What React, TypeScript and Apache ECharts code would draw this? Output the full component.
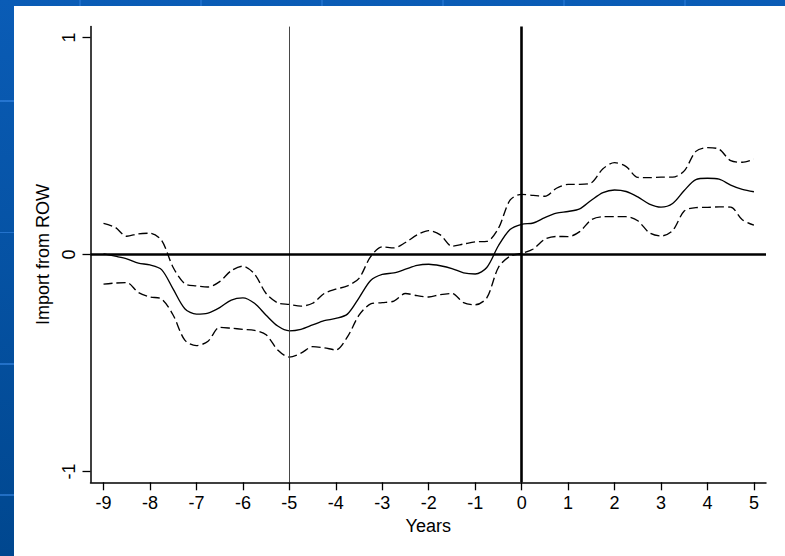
import React, { useEffect, useRef } from "react";
import * as echarts from "echarts";

const years = [
  -9, -8.75, -8.5, -8.25, -8, -7.75, -7.5, -7.25, -7, -6.75, -6.5, -6.25, -6, -5.75, -5.5, -5.25,
  -5, -4.75, -4.5, -4.25, -4, -3.75, -3.5, -3.25, -3, -2.75, -2.5, -2.25, -2, -1.75, -1.5, -1.25,
  -1, -0.75, -0.5, -0.25, 0, 0.25, 0.5, 0.75, 1, 1.25, 1.5, 1.75, 2, 2.25, 2.5, 2.75,
  3, 3.25, 3.5, 3.75, 4, 4.25, 4.5, 4.75, 5,
];

const estimate = [
  0.003, -0.008, -0.02, -0.04, -0.048, -0.07, -0.16, -0.25, -0.275, -0.27, -0.245, -0.21, -0.2, -0.225, -0.28, -0.33,
  -0.352, -0.345, -0.325, -0.305, -0.295, -0.275, -0.2, -0.12, -0.092, -0.085, -0.068, -0.05, -0.045, -0.052, -0.065, -0.085,
  -0.09, -0.06, 0.04, 0.115, 0.139, 0.145, 0.17, 0.19, 0.198, 0.21, 0.25, 0.285, 0.297, 0.29, 0.265, 0.232,
  0.218, 0.235, 0.295, 0.345, 0.351, 0.347, 0.32, 0.3, 0.289,
];

const upper = [
  0.143, 0.125, 0.084, 0.095, 0.098, 0.065, -0.06, -0.135, -0.145, -0.15, -0.125, -0.075, -0.054, -0.09, -0.18, -0.223,
  -0.23, -0.238, -0.225, -0.18, -0.16, -0.145, -0.11, -0.01, 0.035, 0.03, 0.055, 0.09, 0.11, 0.09, 0.038, 0.048,
  0.058, 0.06, 0.12, 0.25, 0.277, 0.272, 0.268, 0.305, 0.323, 0.323, 0.33, 0.395, 0.423, 0.405, 0.355, 0.354,
  0.356, 0.356, 0.385, 0.475, 0.492, 0.485, 0.432, 0.425, 0.439,
];

const lower = [
  -0.137, -0.132, -0.13, -0.175, -0.196, -0.205, -0.28, -0.395, -0.42, -0.4, -0.336, -0.34, -0.345, -0.35, -0.37, -0.44,
  -0.473, -0.455, -0.425, -0.43, -0.44, -0.38, -0.28, -0.228, -0.222, -0.215, -0.18, -0.19, -0.196, -0.185, -0.18, -0.222,
  -0.232, -0.2, -0.06, -0.008, 0.005, 0.025, 0.07, 0.083, 0.082, 0.105, 0.16, 0.174, 0.174, 0.174, 0.155, 0.1,
  0.085, 0.11, 0.2, 0.216, 0.217, 0.219, 0.218, 0.16, 0.135,
];

const xTicks = [-9, -8, -7, -6, -5, -4, -3, -2, -1, 0, 1, 2, 3, 4, 5];
const yTicks = [-1, 0, 1];
const thinRefX = -5;
const thickRefX = 0;
const refY = 0;

const FONT = "'Liberation Sans', Arial, Helvetica, sans-serif";

function pairs(ys: number[]) {
  return years.map((x, i) => [x, ys[i]]);
}

export default function App() {
  const ref = useRef<HTMLDivElement>(null);

  useEffect(() => {
    document.body.style.margin = "0";
    if (!ref.current) return;
    const chart = echarts.init(ref.current, null, { renderer: "svg" });
    chart.setOption({
      animation: false,
      backgroundColor: "#ffffff",
      grid: { left: 76.5, right: 19, top: 20.6, bottom: 73.7, containLabel: false },
      xAxis: {
        type: "value",
        min: -9.28,
        max: 5.26,
        name: "Years",
        nameLocation: "middle",
        nameGap: 31,
        nameTextStyle: { fontFamily: FONT, fontSize: 18, color: "#000" },
        axisLine: { onZero: false, lineStyle: { color: "#000", width: 1.5 } },
        axisTick: { show: true, length: 8, customValues: xTicks, lineStyle: { color: "#000", width: 1.3 } },
        axisLabel: { customValues: xTicks, margin: 12, fontFamily: FONT, fontSize: 18, color: "#000" },
        splitLine: { show: false },
      },
      yAxis: {
        type: "value",
        min: -1.05,
        max: 1.05,
        name: "Import from ROW",
        nameLocation: "middle",
        nameGap: 32,
        nameTextStyle: { fontFamily: FONT, fontSize: 18, color: "#000" },
        axisLine: { onZero: false, lineStyle: { color: "#000", width: 1.5 } },
        axisTick: { show: true, length: 8, customValues: yTicks, lineStyle: { color: "#000", width: 1.3 } },
        axisLabel: { customValues: yTicks, rotate: 90, margin: 13, fontFamily: FONT, fontSize: 18, color: "#000" },
        splitLine: { show: false },
      },
      series: [
        {
          name: "Upper",
          type: "line",
          data: pairs(upper),
          smooth: 0.3,
          symbol: "none",
          lineStyle: { color: "#000", width: 1.35, type: [9, 4] },
          z: 3,
        },
        {
          name: "Lower",
          type: "line",
          data: pairs(lower),
          smooth: 0.3,
          symbol: "none",
          lineStyle: { color: "#000", width: 1.35, type: [9, 4] },
          z: 3,
        },
        {
          name: "Estimate",
          type: "line",
          data: pairs(estimate),
          smooth: 0.3,
          symbol: "none",
          lineStyle: { color: "#000", width: 1.35 },
          z: 4,
          markLine: {
            silent: true,
            symbol: ["none", "none"],
            label: { show: false },
            data: [
              { xAxis: thinRefX, lineStyle: { color: "#333", width: 0.9, type: "solid" } },
              { xAxis: thickRefX, lineStyle: { color: "#000", width: 2.6, type: "solid" } },
              { yAxis: refY, lineStyle: { color: "#000", width: 2.6, type: "solid" } },
            ],
          },
        },
      ],
    });
    return () => chart.dispose();
  }, []);

  const bg: React.CSSProperties = {
    position: "absolute",
    left: 0,
    top: 0,
    width: 785,
    height: 556,
    overflow: "hidden",
    backgroundImage: [
      "repeating-linear-gradient(to bottom, transparent 0px, transparent 100px, rgba(60,140,235,0.55) 100px, rgba(60,140,235,0.55) 102px, transparent 102px, transparent 131.5px)",
      "repeating-linear-gradient(to right, transparent 0px, transparent 79px, rgba(60,140,235,0.35) 79px, rgba(60,140,235,0.35) 81px, transparent 81px, transparent 121px)",
      "linear-gradient(to bottom, #0a5cb6, #00478f)",
    ].join(","),
  };

  return (
    <div style={bg}>
      <div
        ref={ref}
        style={{ position: "absolute", left: 14, top: 6, width: 771, height: 550, background: "#ffffff" }}
      />
    </div>
  );
}
